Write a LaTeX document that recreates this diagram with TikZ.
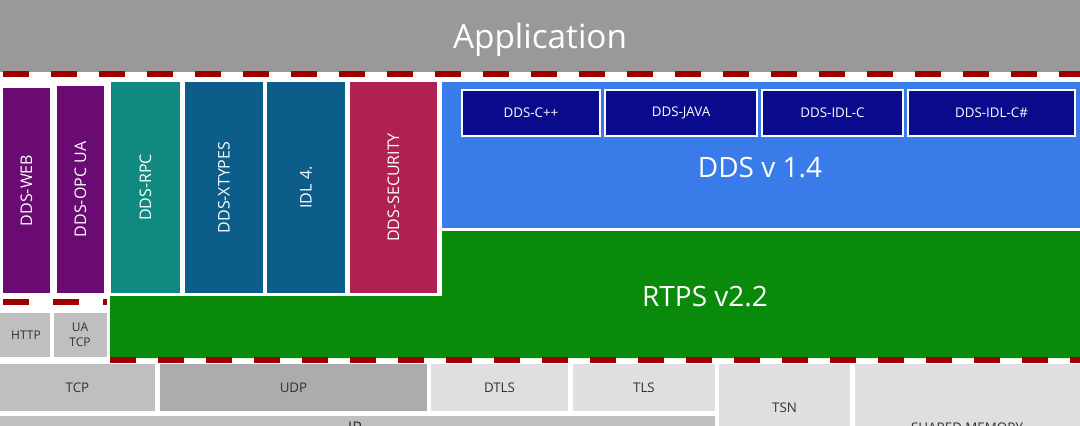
\documentclass[tikz,border=0pt]{standalone}
\usepackage{fontspec}
\setmainfont{Open Sans}
\begin{document}
\begin{tikzpicture}[x=0.75pt,y=-0.75pt,
 vt/.style={rotate=90,text=white,font=\large},
 red/.style={draw={rgb,255:red,160;green,0;blue,0},line width=4.5pt,dash pattern=on 19.5pt off 16.5pt},
 g/.style={text={rgb,255:red,50;green,50;blue,50},font=\normalsize}]
\definecolor{pur}{RGB}{106,10,115}\definecolor{teal2}{RGB}{16,138,128}
\definecolor{dblu}{RGB}{13,93,138}\definecolor{sec}{RGB}{176,32,80}
\definecolor{lblu}{RGB}{58,123,234}\definecolor{nav}{RGB}{10,10,140}
\definecolor{grn}{RGB}{10,138,10}
\useasboundingbox (0,0) rectangle (1080,425);
\clip (0,0) rectangle (1080,425);
\fill[white] (0,0) rectangle (1080,425);
\fill[gray!80] (0,0) rectangle (1080,72);
\node[text=white,font=\fontsize{25}{30}\selectfont] (app) at (540,40) {Application};
\draw[red] (3,74) -- (1080,74);
\fill[grn] (110,296) -- (442,296) -- (442,231) -- (1080,231) -- (1080,358) -- (110,358) -- cycle;
\node[text=white,font=\fontsize{21}{25}\selectfont] (rtps) at (705,297) {RTPS v2.2};
\fill[lblu] (442,82) rectangle (1080,228);
\node[text=white,font=\fontsize{21}{25}\selectfont] (dds) at (760,168) {DDS v 1.4};
\foreach \a/\b/\t/\n in {462/600/DDS-C++/c,605/757/DDS-JAVA/j,762/903/DDS-IDL-C/i,908/1075/DDS-IDL-C\#/s}
  \draw[fill=nav,draw=white,line width=1pt] (\a,90) rectangle (\b,136) node[midway,text=white,font=\normalsize] (\n) {\t};
\foreach \a/\t/\b/\c/\tt/\n in {3/88/50/pur/DDS-WEB/w,57/86/104/pur/DDS-OPC UA/o,111/82/180/teal2/DDS-RPC/r,185/82/263/dblu/DDS-XTYPES/x,267/82/345/dblu/IDL 4./l,350/82/437/sec/DDS-SECURITY/y}
  \fill[\c] (\a,\t) rectangle (\b,293) node[midway,vt] (\n) {\tt};
\draw[red,dash pattern=on 19.5pt off 18pt] (3,302) -- (107,302);
\fill[gray!50] (0,313) rectangle (50,357);
\node[g,font=\small] (http) at (26,335) {HTTP};
\fill[gray!50] (54,313) rectangle (107,357);
\node[g,font=\small,align=center] (ua) at (80,335) {UA\\TCP};
\draw[red] (110,360) -- (1080,360);
\foreach \a/\b/\e/\c/\t/\n/\y in {0/155/411/gray!50/TCP/tcp/388,160/427/411/gray!65/UDP/udp/388,431/568/411/gray!25/DTLS/dtls/388,573/715/411/gray!25/TLS/tls/388,719/850/430/gray!25/TSN/tsn/408}
  {\fill[\c] (\a,364) rectangle (\b,\e); \node[g] (\n) at ({(\a+\b)/2},\y) {\t};}
\fill[gray!25] (855,364) rectangle (1080,430);
\node[g] (sm) at (967,428) {SHARED MEMORY};
\fill[gray!50] (0,416) rectangle (715,430);
\node[g,font=\large] (ip) at (355,428) {IP};
\end{tikzpicture}
\end{document}
